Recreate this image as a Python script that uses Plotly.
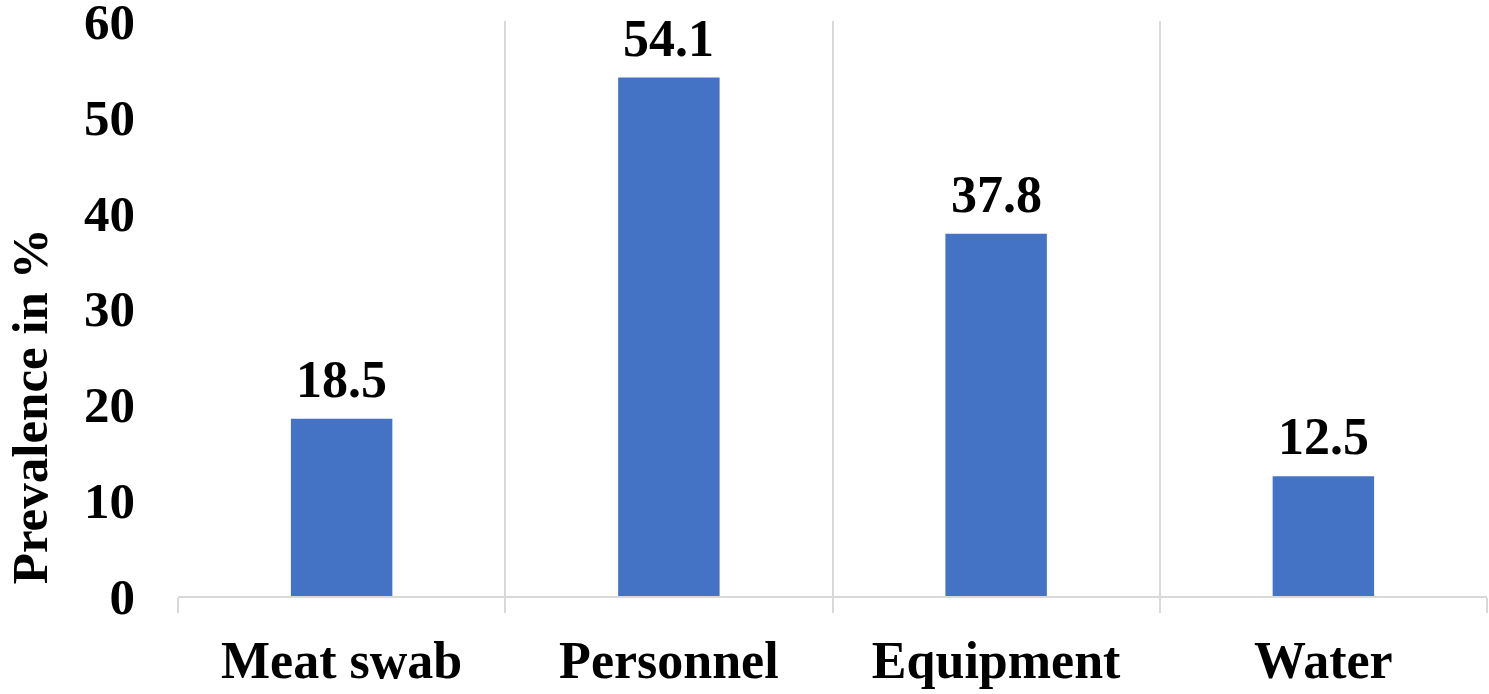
import plotly.graph_objects as go

categories = ["Meat swab", "Personnel", "Equipment", "Water"]
prevalence = [18.5, 54.1, 37.8, 12.5]
y_ticks = [0, 10, 20, 30, 40, 50, 60]
y_title = "Prevalence in %"

FONT = "Liberation Serif, Times New Roman, serif"
BLUE = "#4472C4"
GRID = "#d9d9d9"

fig = go.Figure()
fig.add_trace(go.Bar(
    x=categories, y=prevalence,
    marker=dict(color=BLUE, line=dict(width=0)),
    width=0.31,
    hoverinfo="x+y",
))

for c, v in zip(categories, prevalence):
    fig.add_annotation(
        x=c, y=v, text=f"{v:.1f}", showarrow=False,
        yanchor="bottom", yshift=9,
        font=dict(family=FONT, size=52, color="black", weight="bold"),
    )

# y-axis title (placed lower than centre, as in the reference)
fig.add_annotation(
    xref="paper", yref="paper", x=0, y=0.33,
    xanchor="center", yanchor="middle", xshift=-148,
    text=y_title, textangle=-90, showarrow=False,
    font=dict(family=FONT, size=51, color="black", weight="bold"),
)

fig.update_layout(
    width=1489, height=694,
    margin=dict(l=178, r=2, t=21, b=98, autoexpand=False),
    paper_bgcolor="white", plot_bgcolor="white",
    showlegend=False,
    xaxis=dict(
        type="category",
        automargin=False,
        tickson="boundaries",
        showgrid=True, gridcolor=GRID, gridwidth=1.5,
        showline=True, linecolor=GRID, linewidth=1.5,
        ticks="outside", ticklen=15, tickcolor=GRID, tickwidth=1.5,
        tickfont=dict(family=FONT, size=52, color="black", weight="bold"),
        ticklabelstandoff=18,
        zeroline=False,
    ),
    yaxis=dict(
        range=[0, 60],
        automargin=False,
        tickvals=y_ticks,
        showgrid=False, zeroline=False, showline=False,
        ticks="", ticklabelstandoff=42,
        ticklabeloverflow="allow",
        tickfont=dict(family=FONT, size=51, color="black", weight="bold"),
    ),
)

fig.write_html("out.html")
